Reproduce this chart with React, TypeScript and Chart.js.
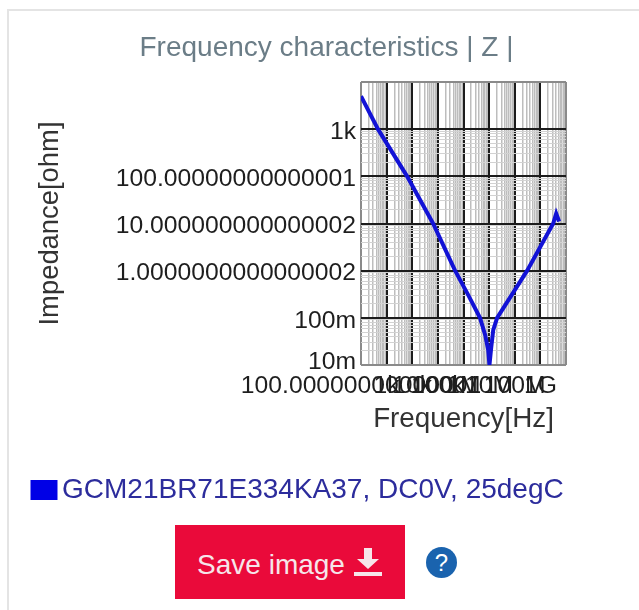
import React, { useEffect, useRef } from "react";
import { Chart, registerables } from "chart.js";

Chart.register(...registerables);

const frequencies = [100, 460, 6300, 65000, 470000, 1500000, 4400000, 7000000, 9200000, 10300000, 12000000, 14500000, 20500000, 304000000, 3160000000, 4140000000, 5400000000];
const impedances = [5000, 1000, 100, 10, 1, 0.31, 0.1, 0.0435, 0.0208, 0.01, 0.023, 0.0556, 0.1, 1, 10, 16.3, 11];

const xDecades = [100, 1e3, 1e4, 1e5, 1e6, 1e7, 1e8, 1e9, 1e10];
const xDecadeLabels = ["100.00000000000001", "1k", "10k", "100k", "1M", "10M", "100M", "1G", ""];
const yDecades = [0.01, 0.1, 1, 10, 100, 1000, 10000];
const yDecadeLabels = ["10m", "100m", "1.0000000000000002", "10.000000000000002", "100.00000000000001", "1k", ""];
const minorSteps = [2, 3, 4, 5, 6, 7, 8, 9];

const seriesName = "GCM21BR71E334KA37, DC0V, 25degC";
const FONT = "'Liberation Sans', Arial, sans-serif";

function buildTicks(decades: number[], withMinorBelow: number) {
  const ticks: { value: number; major: boolean }[] = [];
  decades.forEach((d, i) => {
    ticks.push({ value: d, major: true });
    if (i < decades.length - 1 && d < withMinorBelow) {
      minorSteps.forEach((m) => ticks.push({ value: d * m, major: false }));
    }
  });
  return ticks;
}

function labelFor(value: number, decades: number[], labels: string[]) {
  const i = decades.findIndex((d) => Math.abs(d / value - 1) < 1e-9);
  return i >= 0 ? labels[i] : "";
}

function gridColor(tick: any, first: number, last: number, minor: string) {
  if (!tick) return minor;
  if (tick.value === first || tick.value === last) return "#8a8a8a";
  return tick.major ? "#1c1c1c" : minor;
}

export default function App() {
  const ref = useRef<HTMLCanvasElement | null>(null);
  useEffect(() => {
    const chart = new Chart(ref.current as HTMLCanvasElement, {
      type: "line",
      data: {
        datasets: [
          {
            label: seriesName,
            data: frequencies.map((f, i) => ({ x: f, y: impedances[i] })),
            borderColor: "#1212d6",
            backgroundColor: "#0000e6",
            borderWidth: 4,
            pointRadius: 0,
            tension: 0,
          },
        ],
      },
      options: {
        animation: false,
        responsive: false,
        layout: { padding: { left: 30, right: 16, top: 0, bottom: 0 } },
        plugins: {
          tooltip: { enabled: false },
          title: {
            display: true,
            text: "Frequency characteristics | Z |",
            color: "#6b7d87",
            font: { family: FONT, size: 28, weight: "normal" },
            padding: { top: 31, bottom: 17.4 },
          },
          legend: {
            position: "bottom",
            align: "start",
            labels: {
              color: "#2c2c9c",
              font: { family: FONT, size: 28 },
              padding: 10,
              boxWidth: 8,
              boxHeight: 1,
              generateLabels: () => [
                { text: seriesName, fillStyle: "#0000e6", strokeStyle: "#0000e6", lineWidth: 19, hidden: false, datasetIndex: 0, fontColor: "#2c2c9c" },
              ],
            },
          },
        },
        scales: {
          x: {
            type: "logarithmic",
            min: 100,
            max: 1e10,
            afterBuildTicks: (s: any) => { s.ticks = buildTicks(xDecades, 1e10); },
            afterFit: (s: any) => { s.height = 101; s.paddingLeft = 0; s.paddingRight = 0; },
            grid: {
              drawTicks: false,
              color: (c: any) => gridColor(c.tick, 100, 1e10, "#bdbdbd"),
              lineWidth: (c: any) => (c.tick && c.tick.major ? 2 : 1.5),
            },
            border: { display: false },
            ticks: {
              autoSkip: false,
              maxRotation: 0,
              minRotation: 0,
              padding: 6,
              color: "#1e1e1e",
              font: { family: FONT, size: 24.7 },
              callback: (v: any) => labelFor(Number(v), xDecades, xDecadeLabels),
            },
            title: {
              display: true,
              text: "Frequency[Hz]",
              color: "#333333",
              font: { family: FONT, size: 27.8 },
              padding: { top: 0, bottom: 30 },
            },
          },
          y: {
            type: "logarithmic",
            min: 0.01,
            max: 10000,
            afterBuildTicks: (s: any) => { s.ticks = buildTicks(yDecades, 1000); },
            afterFit: (s: any) => { s.width = 331; s.paddingTop = 0; s.paddingBottom = 0; },
            grid: {
              drawTicks: false,
              color: (c: any) => gridColor(c.tick, 0.01, 10000, "#d2d2d2"),
              lineWidth: (c: any) => (c.tick && c.tick.major ? 2 : 1),
            },
            border: { display: false },
            ticks: {
              autoSkip: false,
              padding: 5,
              labelOffset: 3,
              color: "#1e1e1e",
              font: (c: any) => ({
                family: FONT,
                size: 24.7,
                lineHeight: c.tick && c.tick.value === yDecades[0] ? 0.5 : 1.2,
              }),
              callback: (v: any) => {
                const text = labelFor(Number(v), yDecades, yDecadeLabels);
                return Number(v) === yDecades[0] ? [text, ""] : text;
              },
            },
            title: {
              display: true,
              text: "Impedance[ohm]",
              color: "#333333",
              font: { family: FONT, size: 27.4 },
              padding: { top: 3.6, bottom: 0 },
            },
          },
          y2: {
            type: "linear",
            position: "right",
            afterFit: (s: any) => { s.width = 57; },
            grid: { display: false },
            border: { display: false },
            ticks: { display: false },
          },
        },
      } as any,
    });
    return () => chart.destroy();
  }, []);

  return (
    <div style={{ position: "fixed", inset: 0, overflow: "hidden", background: "#fff", fontFamily: FONT }}>
      <div style={{ position: "absolute", left: 7, top: 9, width: 700, height: 700, border: "2px solid #e4e4e4" }} />
      <canvas ref={ref} width={639} height={514} style={{ position: "absolute", left: 0, top: 0, width: 639, height: 514 }} />
      <div
        style={{
          position: "absolute", left: 175, top: 525, width: 230, height: 74, background: "#ea0a3a",
          color: "#f6e6ea", display: "flex", alignItems: "center", justifyContent: "center", gap: 8, fontSize: 28,
        }}
      >
        <span style={{ position: "relative", top: 3 }}>Save image</span>
        <svg width="30" height="32" viewBox="0 0 30 32">
          <path d="M11 2h8v11h7L15 23 4 13h7z" fill="#f6e6ea" />
          <rect x="1" y="26" width="28" height="4" fill="#f6e6ea" />
        </svg>
      </div>
      <div
        style={{
          position: "absolute", left: 426, top: 547, width: 31, height: 31, borderRadius: "50%", background: "#1a63ae",
          color: "#fff", fontSize: 24, display: "flex", alignItems: "center", justifyContent: "center",
        }}
      >
        ?
      </div>
    </div>
  );
}
